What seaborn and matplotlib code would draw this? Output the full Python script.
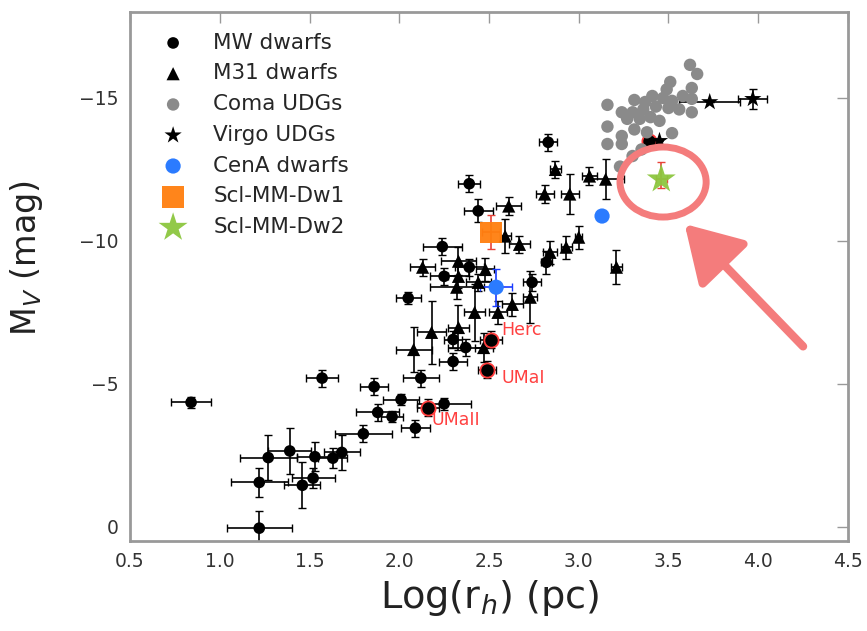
import numpy as np
import pandas as pd
import matplotlib
matplotlib.use("Agg")
import matplotlib.pyplot as plt
from matplotlib.patches import Ellipse
import seaborn as sns

# Milky Way dwarfs: log half-light radius, M_V and their uncertainties
mw_logr = [0.84, 1.22, 1.22, 1.27, 1.39, 1.46, 1.52, 1.53, 1.63, 1.68, 1.57, 1.80,
           1.86, 1.88, 1.96, 2.01, 2.09, 2.16, 2.25, 2.12, 2.30, 2.49, 2.51, 2.37,
           2.30, 2.05, 2.25, 2.39, 2.24, 2.44, 2.39, 2.83, 2.74, 2.82, 3.39]
mw_mv = [-4.35, 0.05, -1.55, -2.42, -2.65, -1.45, -1.70, -2.45, -2.40, -2.60, -5.20, -3.25,
         -4.90, -4.00, -3.85, -4.45, -3.45, -4.17, -4.30, -5.20, -5.78, -5.50, -6.55, -6.27,
         -6.55, -8.00, -8.76, -9.08, -9.80, -11.05, -12.00, -13.45, -8.55, -9.25, -13.50]
mw_xerr = [0.11, 0.18, 0.16, 0.16, 0.12, 0.10, 0.12, 0.10, 0.08, 0.10, 0.09, 0.16,
           0.08, 0.12, 0.06, 0.10, 0.08, 0.06, 0.15, 0.10, 0.08, 0.05, 0.06, 0.10,
           0.05, 0.07, 0.08, 0.08, 0.11, 0.08, 0.06, 0.05, 0.05, 0.03, 0.0]
mw_yerr = [0.20, 0.60, 0.50, 0.80, 0.80, 0.80, 0.35, 0.50, 0.35, 0.60, 0.30, 0.30,
           0.30, 0.30, 0.20, 0.20, 0.30, 0.30, 0.20, 0.30, 0.30, 0.30, 0.30, 0.30,
           0.30, 0.20, 0.30, 0.30, 0.30, 0.40, 0.30, 0.30, 0.30, 0.40, 0.0]

# Milky Way dwarfs circled in red (Herc, UMaI, UMaII and one more)
ring_logr = [2.51, 2.49, 2.16, 3.39]
ring_mv = [-6.55, -5.50, -4.17, -13.50]

# Names written next to three of the circled dwarfs
name_text = ["Herc", "UMaI", "UMaII"]
name_x = [2.57, 2.57, 2.18]
name_y = [-6.87, -5.22, -3.72]

# M31 dwarfs
m31_logr = [2.08, 2.18, 2.33, 2.47, 2.42, 2.55, 2.63, 2.73, 2.13, 2.33, 2.33, 2.48,
            2.32, 2.44, 2.61, 2.59, 2.67, 2.87, 2.81, 2.95, 3.06, 3.15, 3.00, 2.93,
            2.84, 3.21]
m31_mv = [-6.20, -6.80, -6.97, -6.27, -7.50, -7.50, -7.78, -8.03, -9.08, -9.29, -8.76, -9.00,
          -8.38, -8.55, -11.22, -10.17, -9.88, -12.50, -11.64, -11.64, -12.27, -12.16, -10.13, -9.78,
          -9.60, -9.08]
m31_xerr = [0.10, 0.08, 0.06, 0.05, 0.06, 0.05, 0.06, 0.04, 0.07, 0.10, 0.06, 0.05,
            0.15, 0.07, 0.07, 0.03, 0.06, 0.03, 0.05, 0.05, 0.04, 0.10, 0.02, 0.03,
            0.04, 0.03]
m31_yerr = [0.80, 1.10, 0.80, 0.50, 1.00, 0.40, 0.40, 0.90, 0.30, 0.50, 0.40, 0.40,
            0.40, 0.30, 0.30, 0.60, 0.30, 0.30, 0.30, 0.70, 0.30, 0.70, 0.40, 0.40,
            0.40, 0.60]

# Coma ultra-diffuse galaxies
coma_logr = [3.62, 3.66, 3.51, 3.63, 3.49, 3.41, 3.31, 3.37, 3.47, 3.52, 3.58, 3.63,
             3.16, 3.24, 3.30, 3.36, 3.43, 3.50, 3.56, 3.63, 3.27, 3.34, 3.40, 3.45,
             3.16, 3.24, 3.31, 3.38, 3.52, 3.16, 3.24, 3.35, 3.23, 3.30]
coma_mv = [-16.16, -15.84, -15.56, -15.35, -15.30, -15.07, -14.93, -14.86, -15.00, -14.90, -15.07, -14.97,
           -14.76, -14.50, -14.50, -14.60, -14.70, -14.65, -14.60, -14.50, -14.27, -14.27, -14.33, -14.20,
           -14.00, -13.67, -13.90, -13.80, -13.77, -13.39, -13.39, -13.20, -12.60, -12.97]

# Virgo ultra-diffuse galaxies
virgo_logr = [3.45, 3.73, 3.97]
virgo_mv = [-13.50, -14.86, -14.97]
virgo_xerr = [0.0, 0.17, 0.08]
virgo_yerr = [0.0, 0.0, 0.35]

# Centaurus A dwarfs
cena_logr = [2.54, 3.13]
cena_mv = [-8.38, -10.87]
cena_xerr = [0.09, 0.0]
cena_yerr = [0.65, 0.0]

# Sculptor group dwarfs
dw1_logr, dw1_mv, dw1_xerr, dw1_yerr = [2.51], [-10.30], [0.05], [0.60]
dw2_logr, dw2_mv, dw2_xerr = [3.46], [-12.16], [0.03]
dw2_yerr_lo, dw2_yerr_hi = [0.60], [0.30]

sns.set_style("white")
plt.rcParams["font.family"] = ["DejaVu Sans"]

fig = plt.figure(figsize=(8.67, 6.31), dpi=100)
ax = fig.add_axes([0.150, 0.1426, 0.828, 0.838])

eb_kw = dict(fmt="none", ecolor="black", elinewidth=1.2, capsize=3, capthick=1.0, zorder=2)
ax.errorbar(mw_logr, mw_mv, xerr=mw_xerr, yerr=mw_yerr, **eb_kw)
ax.errorbar(m31_logr, m31_mv, xerr=m31_xerr, yerr=m31_yerr, **eb_kw)
ax.errorbar(virgo_logr, virgo_mv, xerr=virgo_xerr, yerr=virgo_yerr, **eb_kw)
ax.errorbar(cena_logr, cena_mv, xerr=cena_xerr, yerr=cena_yerr,
            fmt="none", ecolor="#1a3cff", elinewidth=1.2, capsize=3, zorder=2)
ax.errorbar(dw1_logr, dw1_mv, xerr=dw1_xerr, yerr=dw1_yerr,
            fmt="none", ecolor="#e8433a", elinewidth=1.2, capsize=3, zorder=2)
ax.errorbar(dw2_logr, dw2_mv, xerr=dw2_xerr, yerr=[dw2_yerr_lo, dw2_yerr_hi],
            fmt="none", ecolor="#e8433a", elinewidth=1.2, capsize=3, zorder=2)

mw_df = pd.DataFrame({"logr": mw_logr, "mv": mw_mv})
m31_df = pd.DataFrame({"logr": m31_logr, "mv": m31_mv})
coma_df = pd.DataFrame({"logr": coma_logr, "mv": coma_mv})
virgo_df = pd.DataFrame({"logr": virgo_logr, "mv": virgo_mv})
cena_df = pd.DataFrame({"logr": cena_logr, "mv": cena_mv})
dw1_df = pd.DataFrame({"logr": dw1_logr, "mv": dw1_mv})
dw2_df = pd.DataFrame({"logr": dw2_logr, "mv": dw2_mv})
ring_df = pd.DataFrame({"logr": ring_logr, "mv": ring_mv})

sns.scatterplot(data=mw_df, x="logr", y="mv", ax=ax, marker="o", s=70,
                color="black", edgecolor="none", zorder=3, label="MW dwarfs")
sns.scatterplot(data=m31_df, x="logr", y="mv", ax=ax, marker="^", s=90,
                color="black", edgecolor="none", zorder=3, label="M31 dwarfs")
sns.scatterplot(data=coma_df, x="logr", y="mv", ax=ax, marker="o", s=80,
                color="#8a8a8a", edgecolor="none", zorder=3.6, label="Coma UDGs")
sns.scatterplot(data=virgo_df, x="logr", y="mv", ax=ax, marker="*", s=170,
                color="black", edgecolor="none", zorder=4, label="Virgo UDGs")
sns.scatterplot(data=cena_df, x="logr", y="mv", ax=ax, marker="o", s=120,
                color="#2b7bff", edgecolor="none", zorder=4, label="CenA dwarfs")
sns.scatterplot(data=dw1_df, x="logr", y="mv", ax=ax, marker="s", s=240,
                color="#ff7f0e", edgecolor="none", zorder=4, alpha=0.95, label="Scl-MM-Dw1")
sns.scatterplot(data=dw2_df, x="logr", y="mv", ax=ax, marker="*", s=480,
                color="#8cc63f", edgecolor="none", zorder=4, alpha=0.95, label="Scl-MM-Dw2")
sns.scatterplot(data=ring_df, x="logr", y="mv", ax=ax, marker="o", s=105,
                facecolor="black", edgecolor="#ff3b3b", linewidth=1.3, zorder=3.5, legend=False)

for lab, xv, yv in zip(name_text, name_x, name_y):
    ax.text(xv, yv, lab, color="#ff4040", fontsize=12.5, ha="left", va="center", zorder=6)

# Highlight around Scl-MM-Dw2
ax.add_patch(Ellipse((3.47, -12.06), 0.48, 2.45, fill=False, lw=5,
                     ec="#f47c7c", zorder=7))
ax.annotate("", xy=(3.59, -10.59), xytext=(4.25, -6.31),
            arrowprops=dict(arrowstyle="-|>,head_length=1.0,head_width=0.6",
                            lw=6, color="#f47c7c", mutation_scale=34,
                            shrinkA=0, shrinkB=0), zorder=7)

ax.set_xlim(0.5, 4.5)
ax.set_ylim(0.5, -18)
ax.set_xticks(np.arange(0.5, 4.51, 0.5))
ax.set_yticks([0, -5, -10, -15])
ax.set_yticklabels(["0", "\u22125", "\u221210", "\u221215"])

for sp in ax.spines.values():
    sp.set_color("#999999")
    sp.set_linewidth(2.0)
ax.tick_params(direction="in", length=8, width=1.0, color="#999999",
               top=True, right=True, labelsize=13.5, labelcolor="#333333", pad=8)

ax.set_xlabel(r"Log(r$_h$) (pc)", fontsize=27.5, color="#222222", labelpad=5)
ax.set_ylabel(r"M$_V$ (mag)", fontsize=24, color="#222222")
ax.yaxis.set_label_coords(-0.118, 0.535)

ax.legend(loc="upper left", bbox_to_anchor=(0.009, 0.99), frameon=False,
          fontsize=15.5, labelspacing=0.5, handletextpad=0.86, borderaxespad=0.3,
          scatterpoints=1)

fig.savefig("out.png", dpi=100)
